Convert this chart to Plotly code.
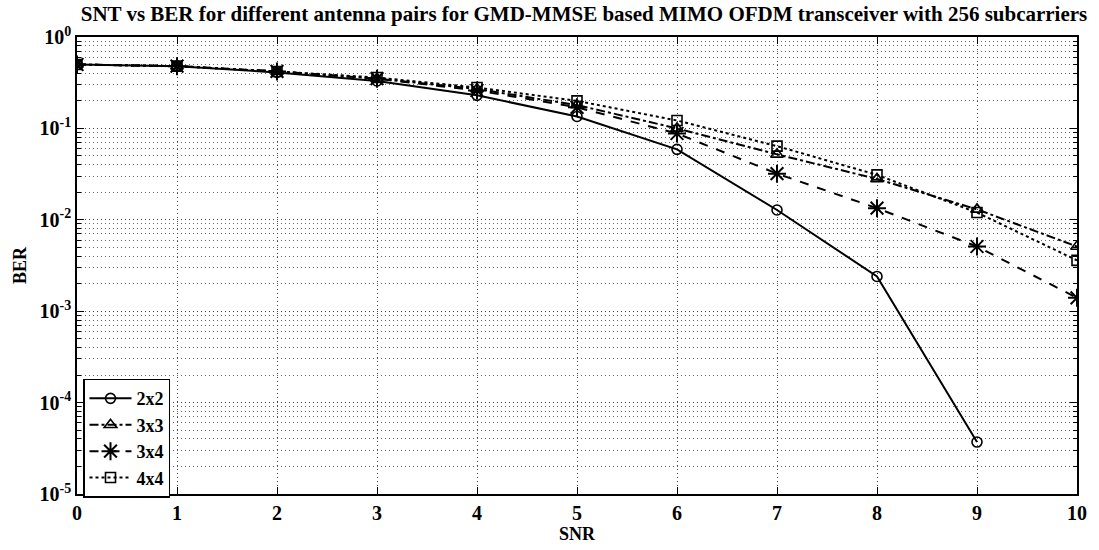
import plotly.graph_objects as go

snr = [0, 1, 2, 3, 4, 5, 6, 7, 8, 9, 10]
ber_2x2 = [0.5, 0.48, 0.41, 0.33, 0.23, 0.135, 0.059, 0.0128, 0.0024, 3.7e-5]
ber_3x3 = [0.5, 0.48, 0.42, 0.35, 0.27, 0.18, 0.1, 0.052, 0.028, 0.013, 0.0051]
ber_3x4 = [0.5, 0.48, 0.42, 0.35, 0.26, 0.17, 0.088, 0.032, 0.0134, 0.0051, 0.0014]
ber_4x4 = [0.5, 0.48, 0.42, 0.36, 0.28, 0.2, 0.122, 0.064, 0.031, 0.012, 0.0036]

ytick_vals = [1e-5, 1e-4, 1e-3, 1e-2, 1e-1, 1]
ytick_text = ["10<sup>-5</sup>", "10<sup>-4</sup>", "10<sup>-3</sup>",
              "10<sup>-2</sup>", "10<sup>-1</sup>", "10<sup>0</sup>"]

FONT = "Liberation Serif, Times New Roman, serif"

fig = go.Figure()
fig.add_trace(go.Scatter(x=snr[:len(ber_2x2)], y=ber_2x2, name="2x2", mode="lines+markers",
                         line=dict(color="black", width=2, dash="solid"),
                         marker=dict(symbol="circle-open", size=10, color="black", line=dict(width=1.6))))
fig.add_trace(go.Scatter(x=snr, y=ber_3x3, name="3x3", mode="lines+markers",
                         line=dict(color="black", width=2, dash="dashdot"),
                         marker=dict(symbol="triangle-up-open", size=11, color="black", line=dict(width=1.6))))
fig.add_trace(go.Scatter(x=snr, y=ber_3x4, name="3x4", mode="lines+markers",
                         line=dict(color="black", width=2, dash="dash"),
                         marker=dict(symbol="asterisk-open", size=15, color="black", line=dict(width=2))))
fig.add_trace(go.Scatter(x=snr, y=ber_4x4, name="4x4", mode="lines+markers",
                         line=dict(color="black", width=2, dash="dot"),
                         marker=dict(symbol="square-open", size=10, color="black", line=dict(width=1.6))))

fig.update_layout(
    width=1099, height=550,
    margin=dict(l=77, r=17, t=37, b=48),
    paper_bgcolor="white", plot_bgcolor="white",
    font=dict(family=FONT, size=20, color="black", weight="bold"),
    title=dict(text="SNT vs BER for different antenna pairs for GMD-MMSE based MIMO OFDM transceiver with 256 subcarriers",
               xref="paper", x=0.507, xanchor="center", y=0.988, yanchor="top",
               font=dict(family=FONT, size=21, color="black", weight="bold")),
    showlegend=True,
    legend=dict(x=0.006, y=-0.008, xanchor="left", yanchor="bottom",
                bgcolor="white", bordercolor="black", borderwidth=1.5,
                font=dict(family=FONT, size=18, color="black", weight="bold"),
                itemwidth=42, tracegroupgap=0),
)

GRID_DASH = "1px,3px"

fig.update_xaxes(
    range=[0, 10], tickmode="array", tickvals=snr, ticktext=[str(v) for v in snr],
    ticks="inside", ticklen=7, tickcolor="black", tickwidth=1,
    showline=True, linecolor="black", linewidth=1.5, mirror="ticks",
    showgrid=True, gridcolor="#444", gridwidth=1, griddash=GRID_DASH,
    zeroline=False,
    title=dict(text="SNR", standoff=2, font=dict(family=FONT, size=18, weight="bold")),
    tickfont=dict(family=FONT, size=20, weight="bold"),
)
fig.update_yaxes(
    type="log", range=[-5, 0], tickmode="array", tickvals=ytick_vals, ticktext=ytick_text,
    ticks="inside", ticklen=7, tickcolor="black", tickwidth=1,
    showline=True, linecolor="black", linewidth=1.5, mirror="ticks",
    showgrid=True, gridcolor="#444", gridwidth=1, griddash=GRID_DASH,
    zeroline=False,
    minor=dict(dtick="D1", ticks="inside", ticklen=4, tickcolor="black",
               showgrid=True, gridcolor="#666", gridwidth=1, griddash=GRID_DASH),
    title=dict(text="BER", standoff=8, font=dict(family=FONT, size=18, weight="bold")),
    tickfont=dict(family=FONT, size=20, weight="bold"),
)

fig.write_html("out.html")
